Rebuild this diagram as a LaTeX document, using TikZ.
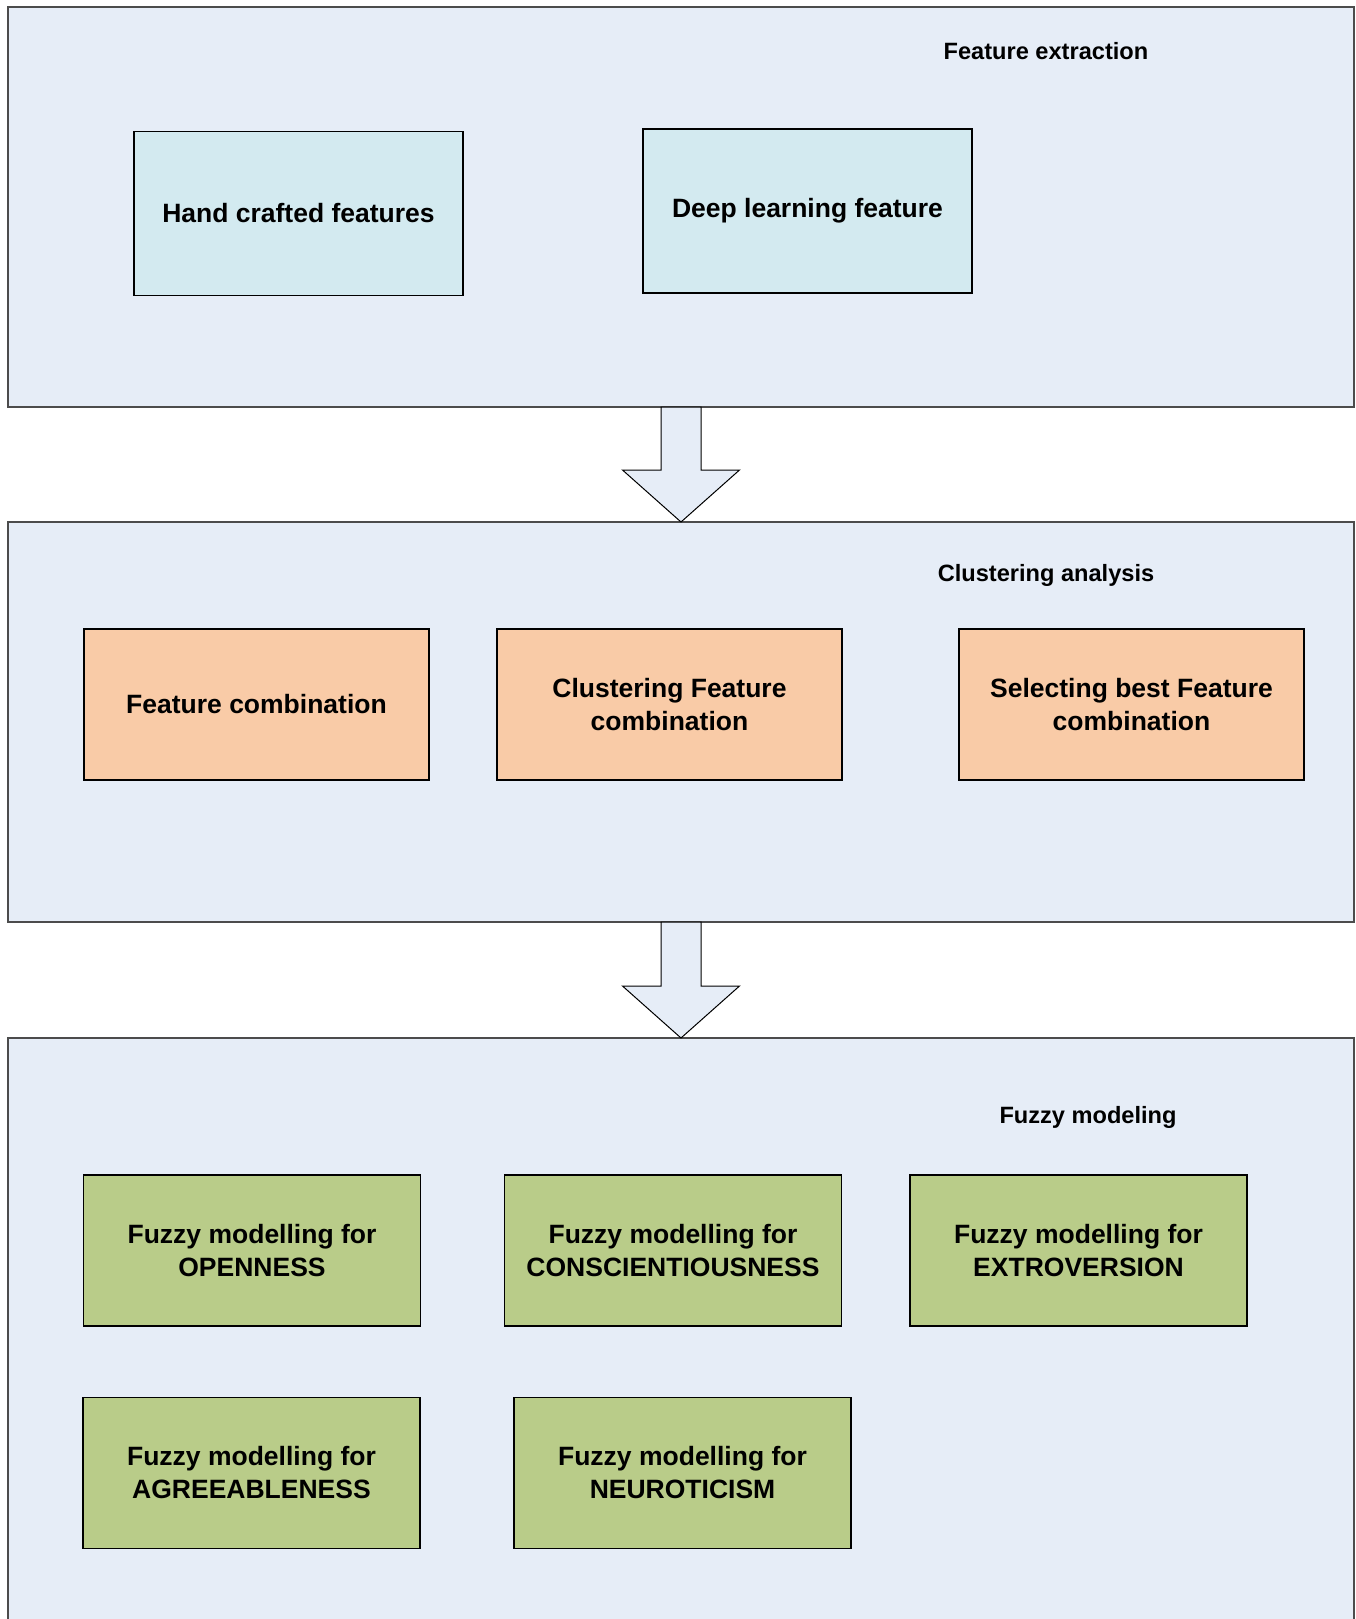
\documentclass[tikz,border=0pt]{standalone}
\usepackage{fontspec}
\setmainfont{Liberation Sans}
\usetikzlibrary{calc}

\definecolor{panelbg}{RGB}{230,237,247}
\definecolor{featbg}{RGB}{211,234,240}
\definecolor{clusbg}{RGB}{249,203,167}
\definecolor{fuzzbg}{RGB}{185,204,137}

% block arrow from the bottom of one panel to the top of the next
\newcommand{\stagearrow}[2]{
\draw[stagearr] ($(#1.south)+(-20,0)$) -- ($(#2.north)+(-20,-52)$)
  -- ++(-38.5,0) -- (#2.north) -- ++(58.5,-52) -- ++(-38.5,0)
  -- ($(#1.south)+(20,0)$) -- cycle;
}

\begin{document}
\begin{tikzpicture}[
    x=0.5pt, y=-0.5pt,
    panel/.style={
        draw=black!70,
        fill=panelbg,
        line width=0.6pt,
        inner sep=0pt,
        outer sep=0pt,
        minimum width=673pt
    },
    stepbox/.style={
        draw=black,
        line width=0.6pt,
        inner sep=2pt,
        outer sep=0pt,
        align=center,
        font=\bfseries\fontsize{13.25}{16.5}\selectfont
    },
    featbox/.style={stepbox, fill=featbg, minimum width=164.5pt, minimum height=82pt},
    clusbox/.style={stepbox, fill=clusbg, minimum width=172.5pt, minimum height=75.5pt},
    fuzzbox/.style={stepbox, fill=fuzzbg, minimum width=168.5pt, minimum height=75.5pt},
    title/.style={font=\bfseries\fontsize{11.8}{14}\selectfont},
    stagearr/.style={draw=black, fill=panelbg, line width=0.5pt, line join=miter}
]
\useasboundingbox (0,0) rectangle (1356,1619);

% Panels
\node[panel, minimum height=200pt] (extract) at (681,207) {};
\node[panel, minimum height=200pt] (cluster) at (681,722) {};
\node[panel, minimum height=300pt] (fuzzy) at (681,1338) {};

% Panel titles
\node[title] (extracttitle) at (1046,51) {Feature extraction};
\node[title] (clustertitle) at (1046,575) {Clustering analysis};
\node[title] (fuzzytitle) at (1088,1117) {Fuzzy modeling};

% Feature extraction
\node[featbox] (hand) at (298.5,213.5) {Hand crafted features};
\node[featbox] (deep) at (807.5,211) {Deep learning feature};

% Clustering analysis
\node[clusbox] (combi) at (256.5,704.5) {Feature combination};
\node[clusbox] (clusfeat) at (669.5,704.5) {Clustering Feature\\combination};
\node[clusbox] (select) at (1131.5,704.5) {Selecting best Feature\\combination};

% Fuzzy modeling
\node[fuzzbox] (open) at (252,1250.5) {Fuzzy modelling for\\OPENNESS};
\node[fuzzbox] (consc) at (673,1250.5) {Fuzzy modelling for\\CONSCIENTIOUSNESS};
\node[fuzzbox] (extra) at (1078.5,1250.5) {Fuzzy modelling for\\EXTROVERSION};
\node[fuzzbox] (agree) at (251.5,1473) {Fuzzy modelling for\\AGREEABLENESS};
\node[fuzzbox] (neuro) at (682.5,1473) {Fuzzy modelling for\\NEUROTICISM};

% Stage arrows
\stagearrow{extract}{cluster}
\stagearrow{cluster}{fuzzy}

\end{tikzpicture}
\end{document}
